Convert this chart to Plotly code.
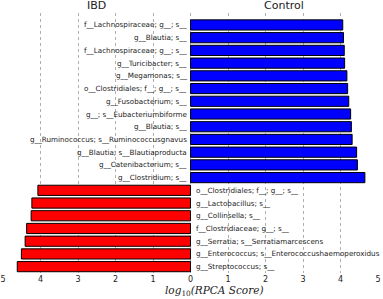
import plotly.graph_objects as go

control_labels = [
    "f__Lachnospiraceae; g__; s__",
    "g__Blautia; s__",
    "f__Lachnospiraceae; g__; s__",
    "g__Turicibacter; s__",
    "g__Megamonas; s__",
    "o__Clostridiales; f__; g__; s__",
    "g__Fusobacterium; s__",
    "g__; s__Eubacteriumbiforme",
    "g__Blautia; s__",
    "g__Ruminococcus; s__Ruminococcusgnavus",
    "g__Blautia; s__Blautiaproducta",
    "g__Catenibacterium; s__",
    "g__Clostridium; s__",
]
control_values = [4.06, 4.08, 4.10, 4.11, 4.17, 4.19, 4.22, 4.27, 4.29, 4.31, 4.43, 4.45, 4.65]

ibd_labels = [
    "o__Clostridiales; f__; g__; s__",
    "g__Lactobacillus; s__",
    "g__Collinsella; s__",
    "f__Clostridiaceae; g__; s__",
    "g__Serratia; s__Serratiamarcescens",
    "g__Enterococcus; s__Enterococcushaemoperoxidus",
    "g__Streptococcus; s__",
]
ibd_values = [4.07, 4.23, 4.25, 4.37, 4.41, 4.51, 4.62]

tick_vals = [-5, -4, -3, -2, -1, 0, 1, 2, 3, 4, 5]
tick_text = ["5", "4", "3", "2", "1", "0", "1", "2", "3", "4", "5"]

n_c = len(control_values)
y_c = list(range(n_c))
y_i = [n_c + i for i in range(len(ibd_values))]

fig = go.Figure()
fig.add_trace(go.Bar(
    x=control_values, y=y_c, orientation="h", width=0.8,
    marker=dict(color="#0000ff", line=dict(color="black", width=1)),
    showlegend=False, hoverinfo="skip",
))
fig.add_trace(go.Bar(
    x=[-v for v in ibd_values], y=y_i, orientation="h", width=0.8,
    marker=dict(color="#ff0000", line=dict(color="black", width=1)),
    showlegend=False, hoverinfo="skip",
))

lab_font = dict(size=7.2, color="#222222", family="DejaVu Sans")
annotations = []
for lab, y in zip(control_labels, y_c):
    annotations.append(dict(x=0, y=y, xref="x", yref="y", text=lab, showarrow=False,
                            xanchor="right", xshift=-2, font=lab_font))
for lab, y in zip(ibd_labels, y_i):
    annotations.append(dict(x=0, y=y, xref="x", yref="y", text=lab, showarrow=False,
                            xanchor="left", xshift=3, font=lab_font))
annotations.append(dict(x=-2.5, y=1, xref="x", yref="paper", text="IBD", showarrow=False,
                        yanchor="middle", yshift=8,
                        font=dict(size=11, family="DejaVu Sans", color="#222")))
annotations.append(dict(x=2.5, y=1, xref="x", yref="paper", text="Control", showarrow=False,
                        yanchor="middle", yshift=8,
                        font=dict(size=11, family="DejaVu Sans", color="#222")))
annotations.append(dict(x=0.63, y=0, xref="x", yref="paper", showarrow=False,
                        text="<i>log</i><sub>10</sub><i>(RPCA Score)</i>",
                        yanchor="middle", yshift=-18,
                        font=dict(size=10.5, family="DejaVu Serif", color="#222")))

fig.update_layout(
    width=383, height=299,
    margin=dict(l=3, r=5, t=13, b=26, autoexpand=False),
    paper_bgcolor="white", plot_bgcolor="white",
    annotations=annotations,
    xaxis=dict(range=[-5, 5], tickvals=tick_vals, ticktext=tick_text, automargin=False,
               showgrid=True, gridcolor="#b0b0b0", griddash="dot", gridwidth=1,
               zeroline=False, showline=False, ticks="",
               tickfont=dict(size=8, family="DejaVu Sans", color="#222")),
    yaxis=dict(range=[19.5, -0.94], showticklabels=False, showgrid=False, automargin=False,
               zeroline=False, showline=False, ticks=""),
)

fig.write_html("out.html", config={"displayModeBar": False},
               post_script="document.body.style.margin='0';document.body.style.overflow='hidden';")
